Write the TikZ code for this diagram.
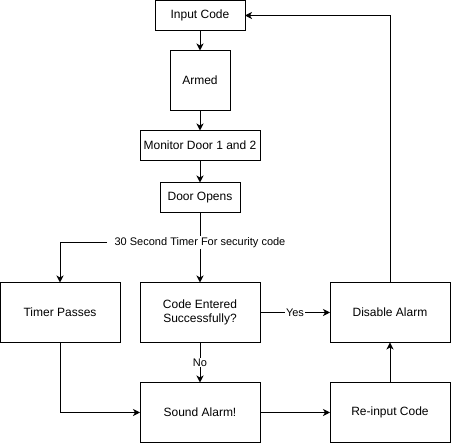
\documentclass[tikz,border=0pt]{standalone}
\usepackage{fontspec}
\setmainfont{Liberation Sans}
\usepackage{tikz}
\usetikzlibrary{positioning}
\usetikzlibrary{arrows.meta}

\begin{document}
\begin{tikzpicture}[
    box/.style={draw, line width=1pt, align=center, inner sep=0pt, outer sep=0pt,
        font=\fontsize{12}{14}\selectfont},
    lbl/.style={fill=white, inner sep=1pt, font=\fontsize{11}{13}\selectfont},
    >={Stealth[length=7pt,width=7pt,inset=2pt]}
]

\useasboundingbox (0,0) rectangle (451pt,-443pt);

%top column
\node[box, minimum width=90pt, minimum height=30pt] (ic) at (200pt,-15.5pt) {Input Code};
\node[box, minimum width=60pt, minimum height=60pt, below = 20pt of ic] (arm) {Armed};
\node[box, minimum width=120pt, minimum height=30pt, below = 20pt of arm] (mon) {Monitor Door 1 and 2};
\node[box, minimum width=80pt, minimum height=30pt, below = 22pt of mon] (door) {Door Opens};

%middle row
\node[box, minimum width=120pt, minimum height=60pt, below = 70pt of door] (code) {Code Entered\\Successfully?};
\node[box, minimum width=120pt, minimum height=60pt, left = 20pt of code] (timer) {Timer Passes};
\node[box, minimum width=120pt, minimum height=60pt, right = 70pt of code] (dis) {Disable Alarm};

%bottom row
\node[box, minimum width=120pt, minimum height=60pt, below = 40pt of code] (sound) {Sound Alarm!};
\node[box, minimum width=120pt, minimum height=60pt, right = 70pt of sound] (re) {Re-input Code};

% flow
\path[->,draw,line width=1pt]
(ic) edge (arm)
(arm) edge (mon)
(mon) edge (door)
(door) edge node[lbl, pos=0.43, inner xsep=7pt] (timelbl) {30 Second Timer For security code} (code)
(code) edge node[lbl] {No} (sound)
(code) edge node[lbl] {Yes} (dis)
(sound) edge (re)
(re) edge (dis)
;

\draw[->,line width=1pt] (timelbl.west) -| (timer.north);
\draw[->,line width=1pt] (timer.south) |- (sound.west);
\draw[->,line width=1pt] (dis.north) |- (ic.east);

\end{tikzpicture}
\end{document}
